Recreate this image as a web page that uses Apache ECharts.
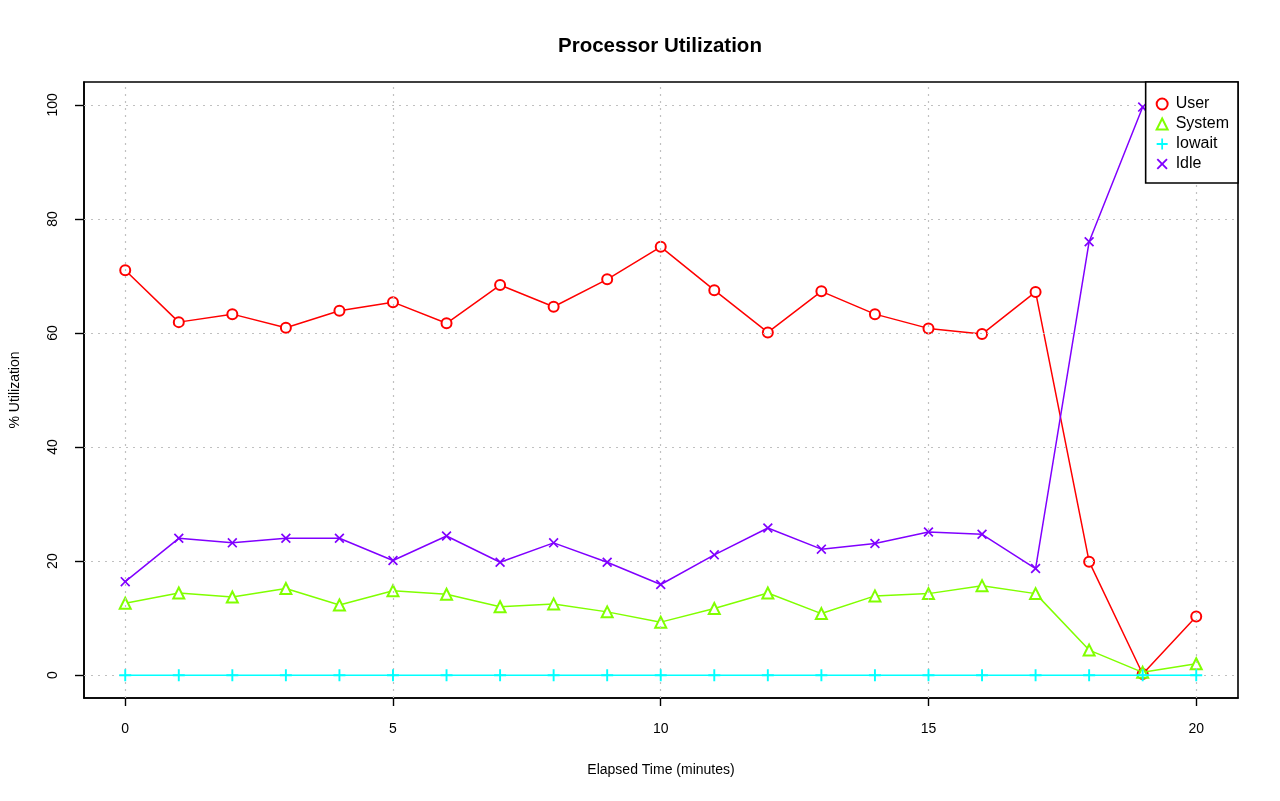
<!DOCTYPE html>
<html>
<head>
<meta charset="utf-8">
<script src="https://cdn.jsdelivr.net/npm/echarts@6/dist/echarts.min.js"></script>
<style>
html,body{margin:0;padding:0;background:#fff;}
#chart{width:1280px;height:801px;}
</style>
</head>
<body>
<div id="chart"></div>
<script>
const minutes = [0,1,2,3,4,5,6,7,8,9,10,11,12,13,14,15,16,17,18,19,20];
const userVals = [71.0,61.9,63.3,60.9,63.9,65.4,61.7,68.4,64.6,69.4,75.1,67.5,60.1,67.3,63.3,60.8,59.8,67.2,19.9,0.2,10.3];
const systemVals = [12.6,14.4,13.7,15.2,12.3,14.8,14.2,12.0,12.5,11.1,9.3,11.7,14.4,10.8,13.9,14.3,15.7,14.3,4.4,0.5,2.0];
const iowaitVals = [0,0,0,0,0,0,0,0,0,0,0,0,0,0,0,0,0,0,0,0,0];
const idleVals = [16.4,24.0,23.2,24.0,24.0,20.1,24.4,19.8,23.2,19.8,15.9,21.1,25.8,22.1,23.1,25.1,24.7,18.7,76.0,99.6,88.1];
const xTicks = [0,5,10,15,20];
const yTicks = [0,20,40,60,80,100];
const seriesNames = ['User','System','Iowait','Idle'];
const colors = ['#FF0000','#80FF00','#00FFFF','#8000FF'];

const plusPath = 'path://M4.2,0 H5.8 V4.2 H10 V5.8 H5.8 V10 H4.2 V5.8 H0 V4.2 H4.2 Z';
const xPath = 'path://M1.2,0 L5,3.8 L8.8,0 L10,1.2 L6.2,5 L10,8.8 L8.8,10 L5,6.2 L1.2,10 L0,8.8 L3.8,5 L0,1.2 Z';
const symbols = ['emptyCircle','emptyTriangle',plusPath,xPath];
const symbolSizes = [10, 11, 12, 10];
const borderWidths = [1.5, 1.5, 0, 0];
const valuesList = [userVals, systemVals, iowaitVals, idleVals];

const fontFam = 'Liberation Sans, Arial, Helvetica, sans-serif';

const series = seriesNames.map((name,i)=>({
  name: name,
  type: 'line',
  data: minutes.map((m,j)=>[m, valuesList[i][j]]),
  symbol: symbols[i],
  symbolSize: symbolSizes[i],
  showAllSymbol: true,
  lineStyle: {color: colors[i], width: 1.5},
  itemStyle: {color: colors[i], borderColor: colors[i], borderWidth: borderWidths[i]},
  z: 3+i,
  animation: false
}));

series.push({
  type: 'line',
  name: 'grid',
  data: [],
  silent: true,
  z: 1,
  markLine: {
    silent: true,
    symbol: ['none','none'],
    animation: false,
    label: {show: false},
    lineStyle: {color: '#c0c0c0', type: [2,5], width: 1.2},
    data: xTicks.map(v=>({xAxis: v})).concat(yTicks.map(v=>({yAxis: v})))
  }
});

const chart = echarts.init(document.getElementById('chart'));
chart.setOption({
  animation: false,
  backgroundColor: '#fff',
  title: {
    text: 'Processor Utilization',
    left: 553, top: 31,
    textStyle: {fontFamily: fontFam, fontSize: 20.5, fontWeight: 'bold', color: '#000'}
  },
  grid: {
    left: 83, right: 42, top: 82, bottom: 103,
    show: true, borderColor: '#000', borderWidth: 1.6, backgroundColor: 'transparent'
  },
  legend: {
    data: seriesNames.map((n,i)=>({name: n, icon: symbols[i],
      itemStyle: {color: colors[i], borderColor: colors[i], borderWidth: borderWidths[i]}})),
    orient: 'vertical',
    right: 42, top: 82,
    backgroundColor: '#fff',
    borderColor: '#000', borderWidth: 1.6,
    padding: [14, 9, 11, 10],
    itemWidth: 11, itemHeight: 11,
    itemGap: 4,
    textStyle: {fontFamily: fontFam, fontSize: 16, lineHeight: 16, color: '#000', padding: [0,0,0,3]},
    selectedMode: false,
    z: 10
  },
  xAxis: {
    type: 'value',
    min: -0.77, max: 20.78,
    name: 'Elapsed Time (minutes)',
    nameLocation: 'middle', nameGap: 65,
    nameTextStyle: {fontFamily: fontFam, fontSize: 14, color: '#000'},
    axisLine: {show: true, onZero: false, lineStyle: {color: '#000', width: 1.6}},
    axisTick: {show: true, customValues: xTicks, length: 8, lineStyle: {color: '#000', width: 1.4}},
    axisLabel: {customValues: xTicks, margin: 24, fontFamily: fontFam, fontSize: 14, color: '#000'},
    splitLine: {show: false}
  },
  yAxis: {
    type: 'value',
    min: -4, max: 104,
    name: '% Utilization',
    nameLocation: 'middle', nameGap: 62, nameRotate: 90,
    nameTextStyle: {fontFamily: fontFam, fontSize: 14, color: '#000'},
    axisLine: {show: true, onZero: false, lineStyle: {color: '#000', width: 1.6}},
    axisTick: {show: true, customValues: yTicks, length: 9, lineStyle: {color: '#000', width: 1.4}},
    axisLabel: {customValues: yTicks, rotate: 90, margin: 24, fontFamily: fontFam, fontSize: 14, color: '#000'},
    splitLine: {show: false}
  },
  series: series
});
</script>
</body>
</html>
